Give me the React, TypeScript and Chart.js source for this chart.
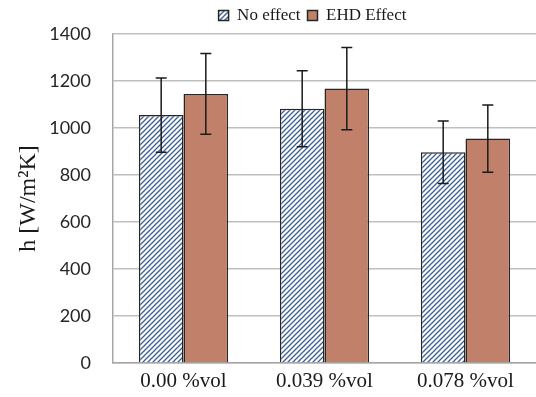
import React, { useEffect, useRef } from "react";
import { Chart, registerables } from "chart.js";

Chart.register(...registerables);

const categories = ["0.00 %vol", "0.039 %vol", "0.078 %vol"];
const noEffect = [1055, 1082, 897];
const noEffectErr = [158, 162, 133];
const ehdEffect = [1145, 1168, 955];
const ehdEffectErr = [172, 175, 143];
const yTicks = [0, 200, 400, 600, 800, 1000, 1200, 1400];

function makeHatch(): CanvasPattern | string {
  const c = document.createElement("canvas");
  c.width = 5;
  c.height = 5;
  const g = c.getContext("2d");
  if (!g) return "#ffffff";
  g.fillStyle = "#ffffff";
  g.fillRect(0, 0, 5, 5);
  g.strokeStyle = "#3a5e96";
  g.lineWidth = 1.3;
  g.beginPath();
  g.moveTo(-1, 6);
  g.lineTo(6, -1);
  g.moveTo(-1, 1);
  g.lineTo(1, -1);
  g.moveTo(4, 6);
  g.lineTo(6, 4);
  g.stroke();
  return g.createPattern(c, "repeat") as CanvasPattern;
}

const errorBarPlugin = {
  id: "errorBars",
  afterDatasetsDraw(chart: any) {
    const ctx = chart.ctx;
    const yScale = chart.scales.y;
    chart.data.datasets.forEach((ds: any, di: number) => {
      const meta = chart.getDatasetMeta(di);
      const errs: number[] = ds.errors || [];
      meta.data.forEach((el: any, i: number) => {
        const v = ds.data[i];
        const e = errs[i];
        const x = el.x;
        const yTop = yScale.getPixelForValue(v + e);
        const yBot = yScale.getPixelForValue(v - e);
        ctx.save();
        ctx.strokeStyle = "#1a1a1a";
        ctx.lineWidth = 1.5;
        ctx.beginPath();
        ctx.moveTo(x, yTop);
        ctx.lineTo(x, yBot);
        ctx.moveTo(x - 5.5, yTop);
        ctx.lineTo(x + 5.5, yTop);
        ctx.moveTo(x - 5.5, yBot);
        ctx.lineTo(x + 5.5, yBot);
        ctx.stroke();
        ctx.restore();
      });
    });
  },
};

const legendShiftPlugin = {
  id: "legendShift",
  afterLayout(chart: any) {
    const lg = chart.legend;
    if (lg) {
      lg.left -= 12;
      lg.right -= 12;
    }
  },
};

export default function App() {
  const ref = useRef<HTMLCanvasElement>(null);
  useEffect(() => {
    if (!ref.current) return;
    const hatch = makeHatch();
    const chart = new Chart(ref.current, {
      type: "bar",
      data: {
        labels: categories,
        datasets: [
          {
            label: "No effect",
            data: noEffect,
            errors: noEffectErr,
            backgroundColor: hatch,
            borderColor: "#262626",
            borderWidth: 1.5,
            categoryPercentage: 0.633,
            barPercentage: 1,
          } as any,
          {
            label: "EHD Effect",
            data: ehdEffect,
            errors: ehdEffectErr,
            backgroundColor: "#c0806a",
            borderColor: "#262626",
            borderWidth: 1.5,
            categoryPercentage: 0.633,
            barPercentage: 1,
          } as any,
        ],
      },
      options: {
        responsive: false,
        animation: false,
        layout: { padding: { left: 14, right: -4, top: 0, bottom: 3 } },
        plugins: {
          legend: {
            position: "top",
            align: "center",
            fullSize: false,
            labels: {
              boxWidth: 10,
              boxHeight: 10,
              padding: 7,
              color: "#1a1a1a",
              font: { family: "Liberation Serif", size: 17 },
            },
          },
          tooltip: { enabled: false },
        },
        scales: {
          x: {
            grid: { display: false, drawTicks: false },
            border: { color: "#a6a6a6", width: 1.5 },
            ticks: {
              color: "#1a1a1a",
              padding: 6,
              font: { family: "Liberation Serif", size: 21 },
            },
            afterFit: (scale: any) => {
              scale.height = 31;
            },
          },
          y: {
            min: 0,
            max: 1400,
            afterBuildTicks: (axis: any) => {
              axis.ticks = yTicks.map((v) => ({ value: v }));
            },
            afterFit: (scale: any) => {
              scale.width = 99;
            },
            grid: { color: "#bfbfbf", lineWidth: 1.5, drawTicks: false },
            border: { color: "#a6a6a6", width: 1.5 },
            ticks: {
              color: "#262626",
              padding: 22,
              font: { family: "Lato", size: 18 },
              callback: (v: any) => String(v),
            },
            title: {
              display: true,
              text: "h [W/m²K]",
              color: "#1a1a1a",
              padding: { top: 0, bottom: 6 },
              font: { family: "Liberation Serif", size: 24 },
            },
          },
        },
      },
      plugins: [errorBarPlugin, legendShiftPlugin],
    });
    return () => chart.destroy();
  }, []);
  return (
    <div style={{ position: "fixed", left: 0, top: 0, width: 536, height: 397, background: "#fff" }}>
      <canvas ref={ref} width={536} height={397} />
    </div>
  );
}
